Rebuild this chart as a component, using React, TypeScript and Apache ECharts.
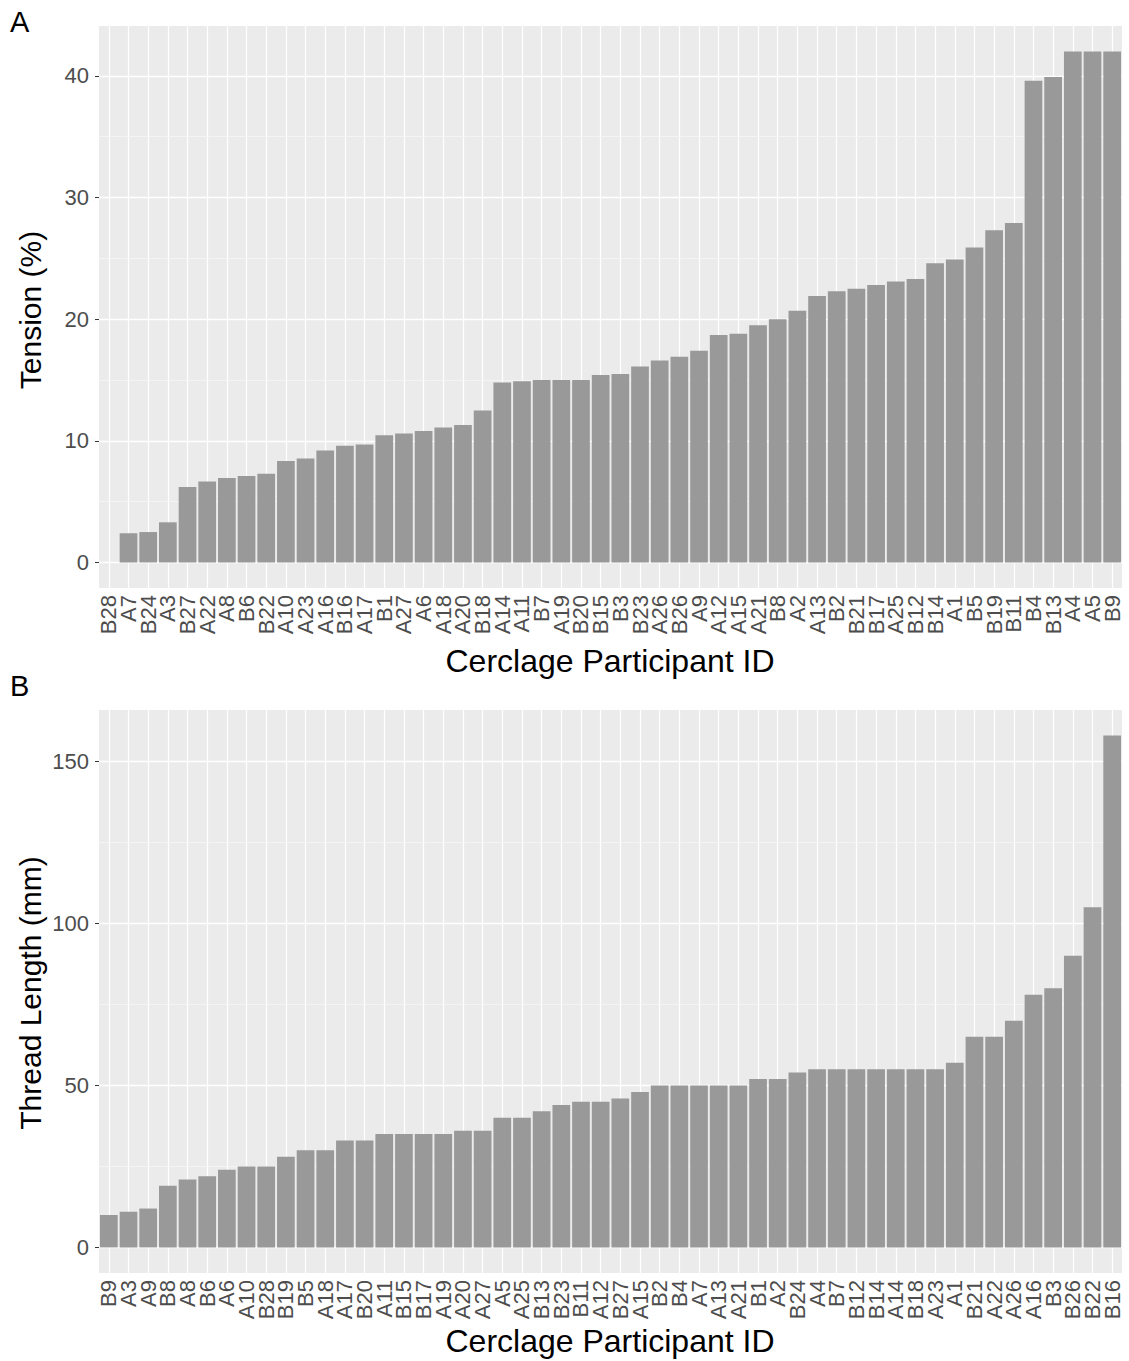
import React, { useEffect, useRef } from 'react';
import * as echarts from 'echarts';

const tensionIds = ['B28','A7','B24','A3','B27','A22','A8','B6','B22','A10','A23','A16','B16','A17','B1','A27','A6','A18','A20','B18','A14','A11','B7','A19','B20','B15','B3','B23','A26','B26','A9','A12','A15','A21','B8','A2','A13','B2','B21','B17','A25','B12','B14','A1','B5','B19','B11','B4','B13','A4','A5','B9'];
const tensionValues = [0, 2.4, 2.5, 3.3, 6.2, 6.65, 6.95, 7.1, 7.3, 8.35, 8.55, 9.2, 9.6, 9.7, 10.45, 10.6, 10.8, 11.1, 11.3, 12.5, 14.8, 14.9, 15.0, 15.0, 15.0, 15.4, 15.5, 16.1, 16.6, 16.9, 17.4, 18.7, 18.8, 19.5, 20.0, 20.7, 21.9, 22.3, 22.5, 22.8, 23.1, 23.3, 24.6, 24.9, 25.9, 27.3, 27.9, 39.6, 39.9, 42, 42, 42];

const threadIds = ['B9','A3','A9','B8','A8','B6','A6','A10','B28','B19','B5','A18','A17','B20','A11','B15','B17','A19','A20','A27','A5','A25','B13','B23','B11','A12','B27','A15','B2','B4','A7','A13','A21','B1','A2','B24','A4','B7','B12','B14','A14','B18','A23','A1','B21','A22','A26','A16','B3','B26','B22','B16'];
const threadValues = [10, 11, 12, 19, 21, 22, 24, 25, 25, 28, 30, 30, 33, 33, 35, 35, 35, 35, 36, 36, 40, 40, 42, 44, 45, 45, 46, 48, 50, 50, 50, 50, 50, 52, 52, 54, 55, 55, 55, 55, 55, 55, 55, 57, 65, 65, 70, 78, 80, 90, 105, 158];

const tensionTicks = [0, 10, 20, 30, 40];
const tensionMinor = [5, 15, 25, 35];
const threadTicks = [0, 50, 100, 150];
const threadMinor = [25, 75, 125];

const FONT = '"Liberation Sans", Arial, sans-serif';
const TICK_COLOR = '#4D4D4D';

function panelSeries(idx: number, ids: string[], values: number[], majors: number[], minors: number[]) {
  return {
    type: 'bar',
    xAxisIndex: idx,
    yAxisIndex: idx,
    data: values,
    barCategoryGap: '10%',
    itemStyle: { color: '#999999' },
    z: 3,
    markLine: {
      silent: true,
      symbol: 'none',
      z: 1,
      animation: false,
      label: { show: false },
      emphasis: { disabled: true },
      data: [
        ...ids.map((id) => ({ xAxis: id, lineStyle: { color: '#FFFFFF', width: 1.2, type: 'solid' } })),
        ...minors.map((v) => ({ yAxis: v, lineStyle: { color: '#F6F6F6', width: 0.8, type: 'solid' } })),
        ...majors.map((v) => ({ yAxis: v, lineStyle: { color: '#FFFFFF', width: 1.4, type: 'solid' } })),
      ],
    },
  };
}

function xAxisFor(idx: number, ids: string[]) {
  return {
    type: 'category',
    gridIndex: idx,
    data: ids,
    boundaryGap: true,
    axisLine: { show: false },
    axisTick: { show: true, alignWithLabel: true, length: 4, lineStyle: { color: '#333333', width: 1 } },
    axisLabel: { rotate: 90, interval: 0, fontSize: 22, color: TICK_COLOR, margin: 7, fontFamily: FONT },
    splitLine: { show: false },
  };
}

function yAxisFor(idx: number, min: number, max: number, ticks: number[]) {
  return {
    type: 'value',
    gridIndex: idx,
    min,
    max,
    axisLine: { show: false },
    splitLine: { show: false },
    axisTick: { show: true, length: 4, customValues: ticks, lineStyle: { color: '#333333', width: 1 } },
    axisLabel: { customValues: ticks, fontSize: 22, color: TICK_COLOR, margin: 10, fontFamily: FONT },
  };
}

export default function App() {
  const ref = useRef<HTMLDivElement>(null);
  useEffect(() => {
    if (!ref.current) return;
    const chart = echarts.init(ref.current, undefined, { renderer: 'svg' });
    chart.setOption({
      animation: false,
      backgroundColor: '#FFFFFF',
      textStyle: { fontFamily: FONT },
      grid: [
        { left: 99, right: 7, top: 26, height: 562, show: true, backgroundColor: '#EBEBEB', borderWidth: 0 },
        { left: 99, right: 7, top: 710, height: 563, show: true, backgroundColor: '#EBEBEB', borderWidth: 0 },
      ],
      xAxis: [xAxisFor(0, tensionIds), xAxisFor(1, threadIds)],
      yAxis: [yAxisFor(0, -2.1, 44.1, tensionTicks), yAxisFor(1, -7.9, 165.9, threadTicks)],
      series: [
        panelSeries(0, tensionIds, tensionValues, tensionTicks, tensionMinor),
        panelSeries(1, threadIds, threadValues, threadTicks, threadMinor),
      ],
      graphic: [
        { type: 'text', x: 10, y: 22, style: { text: 'A', fontSize: 29, fill: '#000', fontFamily: FONT, textVerticalAlign: 'middle' } },
        { type: 'text', x: 10, y: 686, style: { text: 'B', fontSize: 29, fill: '#000', fontFamily: FONT, textVerticalAlign: 'middle' } },
        { type: 'text', x: 610, y: 661, style: { text: 'Cerclage Participant ID', fontSize: 32, fill: '#000', fontFamily: FONT, textAlign: 'center', textVerticalAlign: 'middle' } },
        { type: 'text', x: 610, y: 1341, style: { text: 'Cerclage Participant ID', fontSize: 32, fill: '#000', fontFamily: FONT, textAlign: 'center', textVerticalAlign: 'middle' } },
        { type: 'text', x: 30, y: 310, rotation: Math.PI / 2, style: { text: 'Tension (%)', fontSize: 30, fill: '#000', fontFamily: FONT, textAlign: 'center', textVerticalAlign: 'middle' } },
        { type: 'text', x: 30, y: 993, rotation: Math.PI / 2, style: { text: 'Thread Length (mm)', fontSize: 30, fill: '#000', fontFamily: FONT, textAlign: 'center', textVerticalAlign: 'middle' } },
      ],
    });
    return () => chart.dispose();
  }, []);
  return (
    <div
      ref={ref}
      style={{ position: 'fixed', left: 0, top: 0, width: 1129, height: 1361 }}
    />
  );
}
